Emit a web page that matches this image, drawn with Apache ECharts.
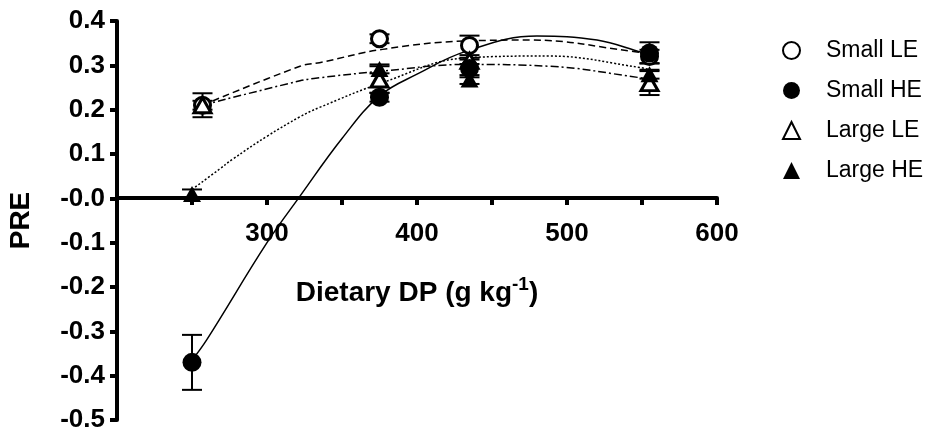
<!DOCTYPE html>
<html>
<head>
<meta charset="utf-8">
<script src="https://cdn.jsdelivr.net/npm/echarts@6/dist/echarts.min.js"></script>
<style>html,body{margin:0;padding:0;background:#fff}#c{width:934px;height:434px}</style>
</head>
<body>
<div id="c"></div>
<script>
// ---- data ----
var seriesNames = ['Small LE', 'Small HE', 'Large LE', 'Large HE'];
// points: [dietary DP, PRE]
var smallLE = [[257, 0.21], [375, 0.36], [435, 0.345], [555, 0.32]];
var smallHE = [[250, -0.37], [375, 0.228], [435, 0.293], [555, 0.328]];
var largeLE = [[257, 0.21], [375, 0.268], [435, 0.31], [555, 0.26]];
var largeHE = [[250, 0.01], [375, 0.292], [435, 0.268], [555, 0.28]];
// error (SE) per point
var smallLEErr = [0.01, 0.01, 0.022, 0.015];
var smallHEErr = [0.062, 0.01, 0.02, 0.024];
var largeLEErr = [0.027, 0.03, 0.007, 0.027];
var largeHEErr = [0.01, 0.01, 0.01, 0.01];
// fitted curves
var smallLEFit = [[257, 0.21], [322, 0.298], [335, 0.306], [377, 0.336], [433, 0.355], [476, 0.357], [543, 0.332], [555, 0.325]];
var smallHEFit = [[250, -0.365], [260, -0.318], [300, -0.1], [322, 0.005], [350, 0.135], [375, 0.231], [400, 0.28], [433, 0.332], [480, 0.366], [520, 0.357], [550, 0.329], [555, 0.325]];
var largeLEFit = [[257, 0.21], [322, 0.265], [335, 0.272], [377, 0.287], [433, 0.302], [488, 0.298], [549, 0.272], [555, 0.268]];
var largeHEFit = [[250, 0.02], [268, 0.065], [277, 0.088], [300, 0.14], [322, 0.184], [335, 0.205], [377, 0.261], [433, 0.317], [488, 0.321], [549, 0.295], [555, 0.29]];

function withErr(pts, errs) { return pts.map(function (p, i) { return [p[0], p[1], errs[i]]; }); }

var FONT = 'Liberation Sans';
var chart = echarts.init(document.getElementById('c'), null, { renderer: 'canvas' });

var GRID_TOP = 21, GRID_BOTTOM_PX = 420, Y_MIN = -0.5, Y_MAX = 0.4;
// put the x axis (line, labels and title) on PRE = 0
var zeroOffset = -Math.round((GRID_BOTTOM_PX - GRID_TOP) * (0 - Y_MIN) / (Y_MAX - Y_MIN));

function errSeries(pts, errs) {
  return {
    type: 'custom', z: 2, silent: true,
    data: withErr(pts, errs),
    renderItem: function (params, api) {
      var x = api.value(0), y = api.value(1), e = api.value(2);
      var t = api.coord([x, y + e]), b = api.coord([x, y - e]);
      var hw = 10;
      var st = { stroke: '#000', lineWidth: 2 };
      return { type: 'group', children: [
        { type: 'line', shape: { x1: t[0], y1: t[1], x2: b[0], y2: b[1] }, style: st },
        { type: 'line', shape: { x1: t[0] - hw, y1: t[1], x2: t[0] + hw, y2: t[1] }, style: st },
        { type: 'line', shape: { x1: b[0] - hw, y1: b[1], x2: b[0] + hw, y2: b[1] }, style: st }
      ] };
    }
  };
}
function fitSeries(pts, dash) {
  return {
    type: 'line', data: pts, smooth: 0.4, showSymbol: false, silent: true, z: 1,
    lineStyle: { color: '#000', width: 1.5, type: dash }
  };
}
var openStyle = { color: '#fff', borderColor: '#000', borderWidth: 3, opacity: 1 };
var fillStyle = { color: '#000', borderColor: '#000', borderWidth: 0, opacity: 1 };

var option = {
  animation: false,
  backgroundColor: '#fff',
  grid: { left: 117, right: 217, top: GRID_TOP, bottom: 434 - GRID_BOTTOM_PX, containLabel: false, outerBoundsMode: 'none' },
  legend: {
    orient: 'vertical', left: 777, top: 34, itemGap: 17,
    itemWidth: 17, itemHeight: 17,
    data: seriesNames,
    textStyle: { fontFamily: FONT, fontSize: 23, color: '#000', padding: [0, 0, 0, 21] }
  },
  xAxis: {
    type: 'value', min: 200, max: 600, interval: 50,
    offset: zeroOffset,
    axisLine: { onZero: false, lineStyle: { color: '#000', width: 4 } },
    axisTick: { length: 7, lineStyle: { color: '#000', width: 4 } },
    splitLine: { show: false },
    axisLabel: {
      margin: 23, color: '#000', fontFamily: FONT, fontWeight: 'bold', fontSize: 26,
      formatter: function (v) { return (v % 100 === 0 && v > 200) ? String(v) : ''; }
    },
    name: '{a|Dietary DP (g kg}{s|-1}{a|)}',
    nameLocation: 'middle', nameGap: 77,
    nameTextStyle: {
      rich: {
        a: { fontFamily: FONT, fontWeight: 'bold', fontSize: 28, color: '#000', verticalAlign: 'bottom', lineHeight: 32 },
        s: { fontFamily: FONT, fontWeight: 'bold', fontSize: 19, color: '#000', verticalAlign: 'bottom', padding: [0, 0, 13, 0], lineHeight: 32 }
      }
    }
  },
  yAxis: {
    type: 'value', min: Y_MIN, max: Y_MAX, interval: 0.1,
    axisLine: { lineStyle: { color: '#000', width: 4 } },
    axisTick: { length: 7, lineStyle: { color: '#000', width: 4 } },
    splitLine: { show: false },
    axisLabel: {
      margin: 12, color: '#000', fontFamily: FONT, fontWeight: 'bold', fontSize: 26,
      formatter: function (v) { var r = Math.round(v * 10) / 10; return r === 0 ? '-0.0' : r.toFixed(1); }
    },
    name: 'PRE', nameLocation: 'middle', nameGap: 82, nameRotate: 90,
    nameTextStyle: { fontFamily: FONT, fontWeight: 'bold', fontSize: 28, color: '#000' }
  },
  series: [
    fitSeries(smallLEFit, [7, 4]),
    fitSeries(smallHEFit, 'solid'),
    fitSeries(largeLEFit, [8, 3, 2, 3]),
    fitSeries(largeHEFit, [2, 2]),
    errSeries(smallLE, smallLEErr),
    errSeries(smallHE, smallHEErr),
    errSeries(largeLE, largeLEErr),
    errSeries(largeHE, largeHEErr),
    { name: 'Small LE', type: 'scatter', data: smallLE, symbol: 'circle', symbolSize: 16, itemStyle: openStyle, z: 3 },
    { name: 'Large LE', type: 'scatter', data: largeLE, symbol: 'triangle', symbolSize: [17, 15], itemStyle: openStyle, z: 4 },
    { name: 'Large HE', type: 'scatter', data: largeHE, symbol: 'triangle', symbolSize: [18, 16], itemStyle: fillStyle, z: 5 },
    { name: 'Small HE', type: 'scatter', data: smallHE, symbol: 'circle', symbolSize: 19, itemStyle: fillStyle, z: 6 }
  ]
};
chart.setOption(option);
</script>
</body>
</html>
